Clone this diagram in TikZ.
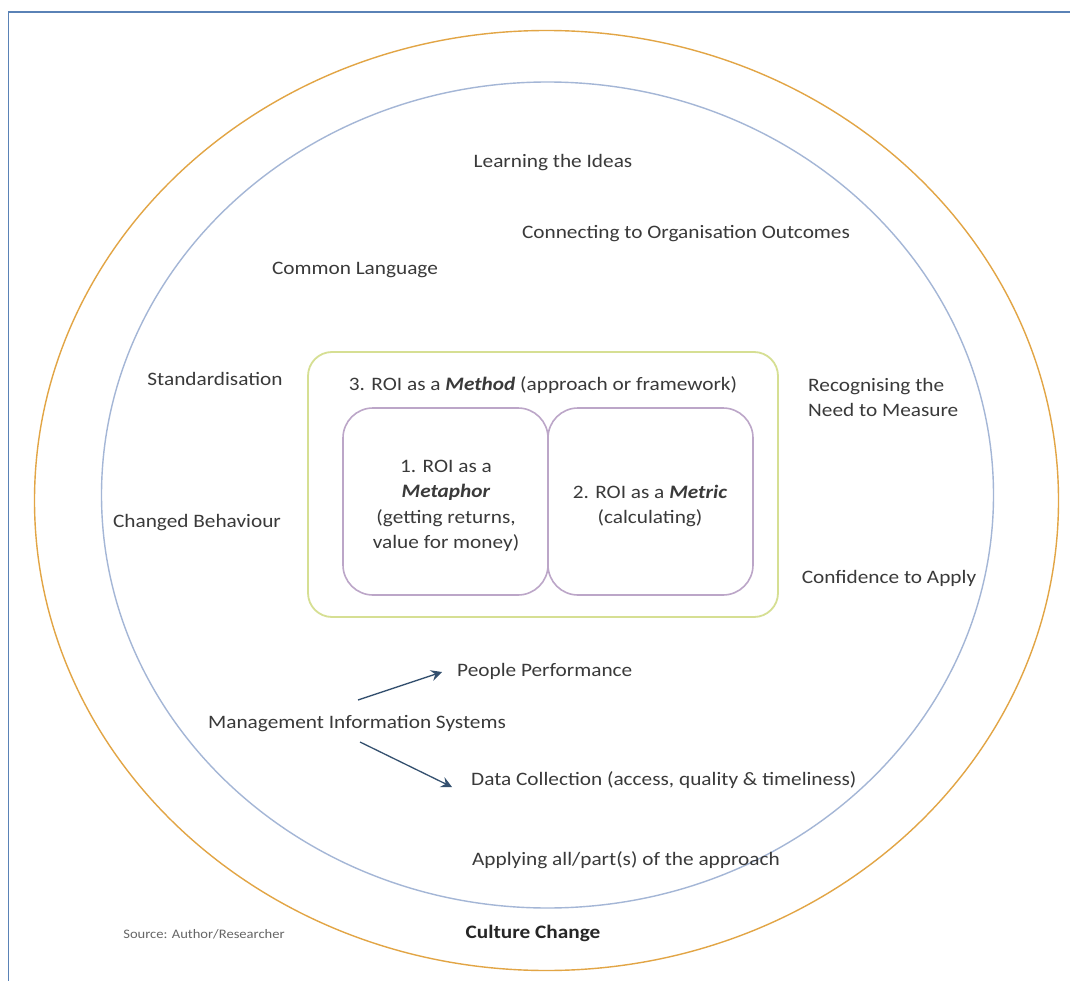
\documentclass[tikz,border=0pt]{standalone}
\usepackage{fontspec}
\setmainfont{Carlito}[FakeStretch=1.12]
\usetikzlibrary{arrows.meta}
\definecolor{framec}{HTML}{5A82B6}
\definecolor{outerc}{HTML}{E2A545}
\definecolor{innerc}{HTML}{A4B6D6}
\definecolor{methc}{HTML}{D6DF93}
\definecolor{boxc}{HTML}{BCA6C8}
\definecolor{txt}{HTML}{3A3A3A}
\definecolor{arr}{HTML}{34506F}
\begin{document}
\begin{tikzpicture}[x=1pt,y=-1pt,
  lbl/.style={font=\fontsize{19}{24}\selectfont, text=txt, inner sep=0pt},
  ring/.style={line width=1.4pt},
  methodbox/.style={draw=methc, line width=1.8pt, rounded corners=24pt, minimum width=470pt, minimum height=265pt, inner sep=0pt},
  roibox/.style={draw=boxc, line width=1.6pt, rounded corners=30pt, minimum width=205pt, minimum height=187pt, inner sep=0pt},
  link/.style={draw=arr, line width=1.3pt, -{Stealth[length=11pt,width=11pt,inset=4pt]}}]
\useasboundingbox (0,0) rectangle (1070,981);
\fill[white] (0,0) rectangle (1070,981);
% frame
\draw[framec, line width=1.6pt] (8.5,981) -- (8.5,12) -- (1070,12);
% rings
\draw[ring, outerc] (546.5,500.5) ellipse [x radius=512, y radius=470];
\draw[ring, innerc] (547.5,495) ellipse [x radius=446, y radius=413];
% central boxes
\node[methodbox] (method) at (543,484.5) {};
\node[roibox] (metaphor) at (445.5,501.5) {};
\node[roibox] (metric) at (650.5,501.5) {};
\node[lbl] (methodtxt) at (543,385) {3. ROI as a \textbf{\textit{Method}} (approach or framework)};
\node[lbl, align=center, font=\fontsize{19}{25.5}\selectfont] (metaphortxt) at (446,506) {1. ROI as a\\\textbf{\textit{Metaphor}}\\(getting returns,\\value for money)};
\node[lbl, align=center, font=\fontsize{19}{24.5}\selectfont] (metrictxt) at (650,506) {2. ROI as a \textbf{\textit{Metric}}\\(calculating)};
% labels
\node[lbl] (learn) at (553,163) {Learning the Ideas};
\node[lbl] (connect) at (686,234) {Connecting to Organisation Outcomes};
\node[lbl] (common) at (355,270) {Common Language};
\node[lbl] (standard) at (215,379) {Standardisation};
\node[lbl, align=left, anchor=west, font=\fontsize{19}{25}\selectfont] (recog) at (808,397) {Recognising the\\Need to Measure};
\node[lbl] (changed) at (197,523) {Changed Behaviour};
\node[lbl] (conf) at (889,578) {Confidence to Apply};
\node[lbl, anchor=west] (people) at (457,671) {People Performance};
\node[lbl] (mis) at (357,724) {Management Information Systems};
\node[lbl, anchor=west] (data) at (471,780) {Data Collection (access, quality \& timeliness)};
\node[lbl] (apply) at (626,860) {Applying all/part(s) of the approach};
\node[lbl, font=\bfseries\fontsize{19}{20}\selectfont, text=black!85] (culture) at (533,933) {Culture Change};
\node[lbl, font=\fontsize{13}{14}\selectfont, text=black!60] (source) at (204,934) {Source: Author/Researcher};
% arrows
\coordinate (a1s) at (358,700);
\coordinate (a2s) at (360,742);
\draw[link] (a1s) -- ([xshift=-15pt,yshift=-1pt]people.west);
\draw[link] (a2s) -- ([xshift=-19pt,yshift=-7pt]data.west);
\end{tikzpicture}
\end{document}
